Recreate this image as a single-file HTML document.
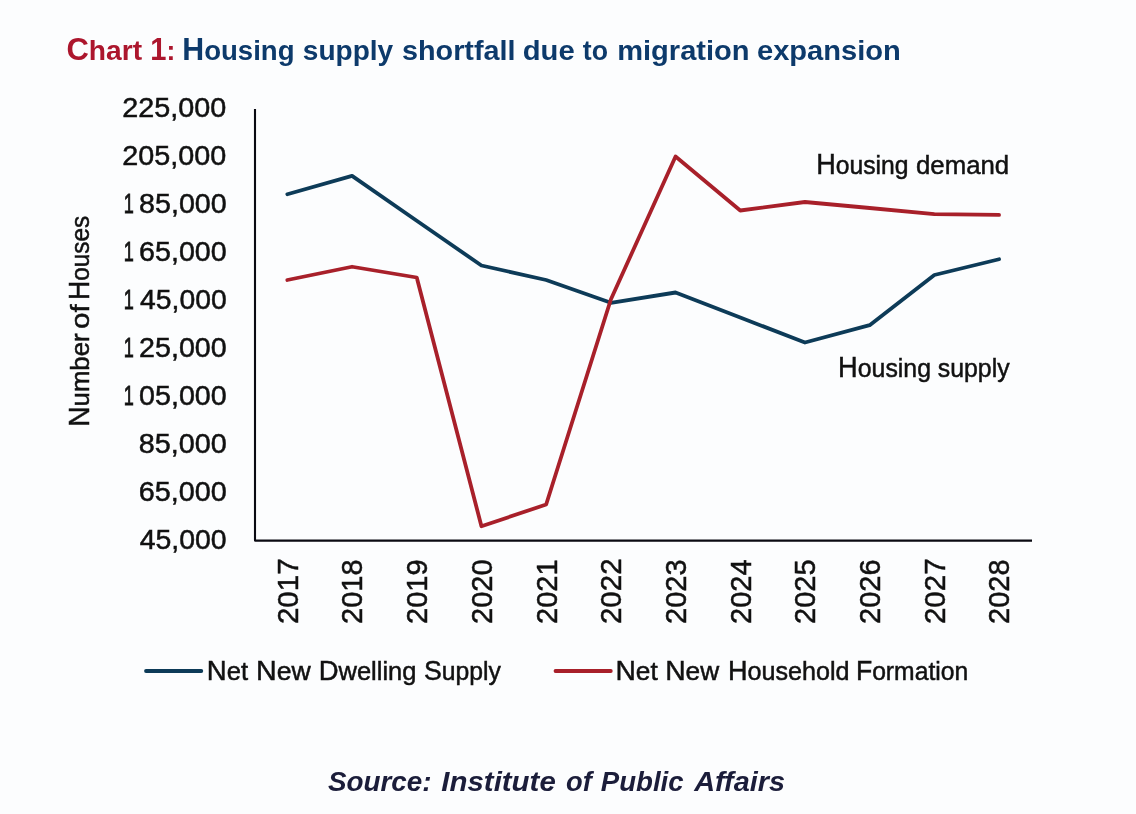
<!DOCTYPE html>
<html lang="en">
<head>
<meta charset="utf-8">
<title>Chart 1: Housing supply shortfall due to migration expansion</title>
<style>
html,body{margin:0;padding:0;background:#fcfdfe;}
body{width:1136px;height:814px;overflow:hidden;position:relative;}
svg{position:absolute;left:0;top:0;display:block;}
text{font-family:"Liberation Sans",Arial,sans-serif;fill:#111111;}
.t{font-size:28.0px;font-weight:bold;}
.t .c{font-size:30.8px;}
.l{font-size:26.5px;stroke:#111111;stroke-width:0.5px;}
.l .c{font-size:29.0px;}
.y{font-size:28px;stroke:#111111;stroke-width:0.5px;}
.y .o{stroke-width:0.85px;}
.x{font-size:29px;stroke:#111111;stroke-width:0.5px;}
.g{font-size:26.0px;stroke:#111111;stroke-width:0.5px;}
.g .c{font-size:28.0px;}
.s{font-size:27.3px;font-weight:bold;font-style:italic;fill:#1b1d3a;}
</style>
</head>
<body>
<svg width="1136" height="814" viewBox="0 0 1136 814">
<rect x="0" y="0" width="1136" height="814" fill="#fcfdfe"/>
<text class="t" y="59.5"><tspan x="66.49" textLength="75.66" lengthAdjust="spacingAndGlyphs" fill="#ac162d"><tspan class="c">C</tspan>hart</tspan> <tspan x="150.30" textLength="25.03" lengthAdjust="spacingAndGlyphs" fill="#ac162d"><tspan class="c">1</tspan>:</tspan> <tspan x="182.28" textLength="112.22" lengthAdjust="spacingAndGlyphs" fill="#0d3a6b"><tspan class="c">H</tspan>ousing</tspan> <tspan x="302.80" textLength="90.43" lengthAdjust="spacingAndGlyphs" fill="#0d3a6b">supply</tspan> <tspan x="401.97" textLength="113.54" lengthAdjust="spacingAndGlyphs" fill="#0d3a6b">shortfall</tspan> <tspan x="522.76" textLength="51.86" lengthAdjust="spacingAndGlyphs" fill="#0d3a6b">due</tspan> <tspan x="582.75" textLength="25.17" lengthAdjust="spacingAndGlyphs" fill="#0d3a6b">to</tspan> <tspan x="617.16" textLength="132.46" lengthAdjust="spacingAndGlyphs" fill="#0d3a6b">migration</tspan> <tspan x="756.96" textLength="143.83" lengthAdjust="spacingAndGlyphs" fill="#0d3a6b">expansion</tspan></text>
<text class="y" y="117.10"><tspan x="122.27" textLength="103.95" lengthAdjust="spacingAndGlyphs">225,000</tspan></text>
<text class="y" y="165.06"><tspan x="122.27" textLength="103.95" lengthAdjust="spacingAndGlyphs">205,000</tspan></text>
<text class="y" y="213.02"><tspan x="123.71" textLength="10.07" lengthAdjust="spacingAndGlyphs"><tspan class="o">1</tspan></tspan><tspan x="139.08" textLength="87.58" lengthAdjust="spacingAndGlyphs">85,000</tspan></text>
<text class="y" y="260.98"><tspan x="123.71" textLength="10.07" lengthAdjust="spacingAndGlyphs"><tspan class="o">1</tspan></tspan><tspan x="139.08" textLength="87.58" lengthAdjust="spacingAndGlyphs">65,000</tspan></text>
<text class="y" y="308.94"><tspan x="123.71" textLength="10.07" lengthAdjust="spacingAndGlyphs"><tspan class="o">1</tspan></tspan><tspan x="140.10" textLength="86.55" lengthAdjust="spacingAndGlyphs">45,000</tspan></text>
<text class="y" y="356.90"><tspan x="123.71" textLength="10.07" lengthAdjust="spacingAndGlyphs"><tspan class="o">1</tspan></tspan><tspan x="139.08" textLength="87.58" lengthAdjust="spacingAndGlyphs">25,000</tspan></text>
<text class="y" y="404.86"><tspan x="123.71" textLength="10.07" lengthAdjust="spacingAndGlyphs"><tspan class="o">1</tspan></tspan><tspan x="139.08" textLength="87.58" lengthAdjust="spacingAndGlyphs">05,000</tspan></text>
<text class="y" y="452.82"><tspan x="138.67" textLength="87.99" lengthAdjust="spacingAndGlyphs">85,000</tspan></text>
<text class="y" y="500.78"><tspan x="138.67" textLength="87.99" lengthAdjust="spacingAndGlyphs">65,000</tspan></text>
<text class="y" y="548.74"><tspan x="139.70" textLength="86.95" lengthAdjust="spacingAndGlyphs">45,000</tspan></text>
<text class="l" transform="translate(88.90,424.80) rotate(-90)" y="0"><tspan x="-1.94" textLength="93.32" lengthAdjust="spacingAndGlyphs"><tspan class="c">N</tspan>umber</tspan> <tspan x="95.78" textLength="24.74" lengthAdjust="spacingAndGlyphs">of</tspan> <tspan x="124.76" textLength="84.36" lengthAdjust="spacingAndGlyphs"><tspan class="c">H</tspan>ouses</tspan></text>
<path d="M255 109 V540.6 H1032" fill="none" stroke="#0a0a12" stroke-width="2.1" stroke-linejoin="round"/>
<text class="x" transform="translate(297.75,623.00) rotate(-90)" y="0"><tspan x="-1.02" textLength="65.56" lengthAdjust="spacingAndGlyphs">2017</tspan></text>
<text class="x" transform="translate(362.45,623.00) rotate(-90)" y="0"><tspan x="-1.00" textLength="64.52" lengthAdjust="spacingAndGlyphs">2018</tspan></text>
<text class="x" transform="translate(427.15,623.00) rotate(-90)" y="0"><tspan x="-1.00" textLength="64.52" lengthAdjust="spacingAndGlyphs">2019</tspan></text>
<text class="x" transform="translate(491.85,623.00) rotate(-90)" y="0"><tspan x="-1.00" textLength="64.52" lengthAdjust="spacingAndGlyphs">2020</tspan></text>
<text class="x" transform="translate(556.55,623.00) rotate(-90)" y="0"><tspan x="-1.00" textLength="64.52" lengthAdjust="spacingAndGlyphs">2021</tspan></text>
<text class="x" transform="translate(621.25,623.00) rotate(-90)" y="0"><tspan x="-1.02" textLength="65.56" lengthAdjust="spacingAndGlyphs">2022</tspan></text>
<text class="x" transform="translate(685.95,623.00) rotate(-90)" y="0"><tspan x="-1.00" textLength="64.52" lengthAdjust="spacingAndGlyphs">2023</tspan></text>
<text class="x" transform="translate(750.65,623.00) rotate(-90)" y="0"><tspan x="-1.00" textLength="64.52" lengthAdjust="spacingAndGlyphs">2024</tspan></text>
<text class="x" transform="translate(815.35,623.00) rotate(-90)" y="0"><tspan x="-1.00" textLength="64.52" lengthAdjust="spacingAndGlyphs">2025</tspan></text>
<text class="x" transform="translate(880.05,623.00) rotate(-90)" y="0"><tspan x="-1.00" textLength="64.52" lengthAdjust="spacingAndGlyphs">2026</tspan></text>
<text class="x" transform="translate(944.75,623.00) rotate(-90)" y="0"><tspan x="-1.02" textLength="65.56" lengthAdjust="spacingAndGlyphs">2027</tspan></text>
<text class="x" transform="translate(1009.45,623.00) rotate(-90)" y="0"><tspan x="-1.00" textLength="64.52" lengthAdjust="spacingAndGlyphs">2028</tspan></text>
<polyline points="287.35,194.25 352.05,175.90 416.75,220.80 481.45,265.50 546.15,280.00 610.85,302.80 675.55,292.50 740.25,317.50 804.95,342.50 869.65,325.20 934.35,275.00 999.05,259.25" fill="none" stroke="#0d3b58" stroke-width="3.8" stroke-linejoin="round" stroke-linecap="round"/>
<polyline points="287.35,280.00 352.05,266.75 416.75,277.50 481.45,526.25 546.15,504.50 610.85,299.50 675.55,156.50 740.25,210.50 804.95,202.00 869.65,208.00 934.35,214.10 999.05,214.90" fill="none" stroke="#a8202a" stroke-width="3.8" stroke-linejoin="round" stroke-linecap="round"/>
<text class="l" y="174"><tspan x="816.14" textLength="92.34" lengthAdjust="spacingAndGlyphs"><tspan class="c">H</tspan>ousing</tspan> <tspan x="916.03" textLength="93.19" lengthAdjust="spacingAndGlyphs">demand</tspan></text>
<text class="l" y="377"><tspan x="838.12" textLength="92.86" lengthAdjust="spacingAndGlyphs"><tspan class="c">H</tspan>ousing</tspan> <tspan x="937.81" textLength="71.82" lengthAdjust="spacingAndGlyphs">supply</tspan></text>
<line x1="146" y1="671" x2="201.3" y2="671" stroke="#0d3b58" stroke-width="3.8" stroke-linecap="round"/>
<text class="g" y="680"><tspan x="206.78" textLength="41.24" lengthAdjust="spacingAndGlyphs"><tspan class="c">N</tspan>et</tspan> <tspan x="256.06" textLength="54.67" lengthAdjust="spacingAndGlyphs"><tspan class="c">N</tspan>ew</tspan> <tspan x="318.64" textLength="97.81" lengthAdjust="spacingAndGlyphs"><tspan class="c">D</tspan>welling</tspan> <tspan x="424.05" textLength="76.90" lengthAdjust="spacingAndGlyphs"><tspan class="c">S</tspan>upply</tspan></text>
<line x1="555.5" y1="671" x2="610.8" y2="671" stroke="#a8202a" stroke-width="3.8" stroke-linecap="round"/>
<text class="g" y="680"><tspan x="615.49" textLength="42.24" lengthAdjust="spacingAndGlyphs"><tspan class="c">N</tspan>et</tspan> <tspan x="665.18" textLength="54.00" lengthAdjust="spacingAndGlyphs"><tspan class="c">N</tspan>ew</tspan> <tspan x="728.07" textLength="121.55" lengthAdjust="spacingAndGlyphs"><tspan class="c">H</tspan>ousehold</tspan> <tspan x="855.90" textLength="112.30" lengthAdjust="spacingAndGlyphs"><tspan class="c">F</tspan>ormation</tspan></text>
<text class="s" y="791.3"><tspan x="327.90" textLength="103.75" lengthAdjust="spacingAndGlyphs">Source:</tspan> <tspan x="441.30" textLength="114.47" lengthAdjust="spacingAndGlyphs">Institute</tspan> <tspan x="566.00" textLength="25.77" lengthAdjust="spacingAndGlyphs">of</tspan> <tspan x="600.80" textLength="82.86" lengthAdjust="spacingAndGlyphs">Public</tspan> <tspan x="694.16" textLength="90.88" lengthAdjust="spacingAndGlyphs">Affairs</tspan></text>
</svg>
</body>
</html>
